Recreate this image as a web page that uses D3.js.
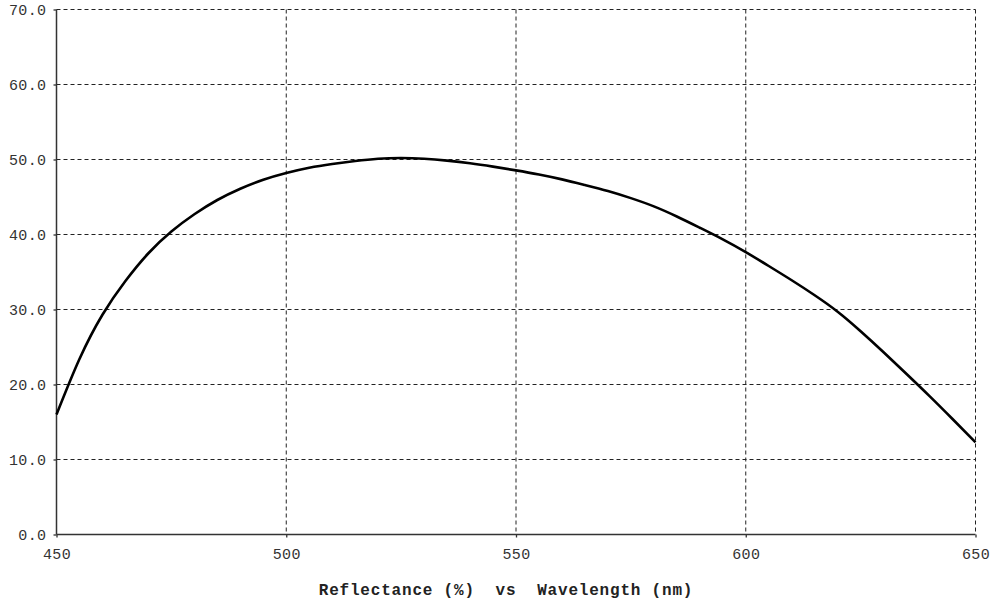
<!DOCTYPE html>
<html>
<head>
<meta charset="utf-8">
<script src="https://cdn.jsdelivr.net/npm/d3@7"></script>
<style>
html,body{margin:0;padding:0;background:#fff;}
svg{display:block;}
</style>
</head>
<body>
<svg id="chart" width="1006" height="607"></svg>
<script>
const wavelengths = [450,455,460,465,470,475,480,485,490,495,500,505,510,515,520,525,530,535,540,545,550,555,560,565,570,575,580,585,590,595,600,605,610,615,620,625,630,635,640,645,650];
const reflectance = [16.0,23.4,29.3,33.8,37.5,40.4,42.7,44.6,46.1,47.3,48.2,48.9,49.4,49.8,50.1,50.2,50.1,49.85,49.5,49.05,48.55,48.0,47.35,46.6,45.8,44.85,43.75,42.4,40.9,39.35,37.65,35.8,33.9,31.9,29.7,27.1,24.3,21.4,18.45,15.4,12.3];
const xTicks = [450,500,550,600,650];
const yTicks = [0,10,20,30,40,50,60,70];
const title = "Reflectance (%)  vs  Wavelength (nm)";

const svg = d3.select("#chart");
const x = d3.scaleLinear().domain([450,650]).range([56.5,975.5]);
const y = d3.scaleLinear().domain([0,70]).range([534.5,9.5]);
const font = "'Liberation Mono','Courier New',monospace";

// grid
const g = svg.append("g");
g.selectAll("line.h").data(yTicks.filter(d=>d>0)).enter().append("line")
  .attr("x1", x(450)).attr("x2", x(650))
  .attr("y1", d=>y(d)).attr("y2", d=>y(d))
  .attr("stroke","#222").attr("stroke-width",1).attr("stroke-dasharray","4,3");
g.selectAll("line.v").data(xTicks.filter(d=>d>450)).enter().append("line")
  .attr("x1", d=>x(d)).attr("x2", d=>x(d))
  .attr("y1", y(70)).attr("y2", y(0))
  .attr("stroke","#222").attr("stroke-width",1).attr("stroke-dasharray","4,3");

// axes
const yAxis = d3.axisLeft(y).tickValues(yTicks).tickSize(3).tickPadding(7).tickFormat(d3.format(".1f"));
const xAxis = d3.axisBottom(x).tickValues(xTicks).tickSize(3).tickPadding(11).tickFormat(d3.format("d"));
const ya = svg.append("g").attr("transform","translate("+x(450)+",0)").call(yAxis);
const xa = svg.append("g").attr("transform","translate(0,"+y(0)+")").call(xAxis);
[ya,xa].forEach(a=>{
  a.select(".domain").attr("stroke","#333").attr("stroke-width",1.5);
  a.selectAll(".tick line").attr("stroke","#333").attr("stroke-width",1.3);
  a.selectAll(".tick text").attr("fill","#333").style("font-family",font).style("font-size","15px").style("letter-spacing","0.4px");
});
ya.select(".domain").attr("d","M0,"+y(70)+"V"+y(0));
xa.select(".domain").attr("d","M"+x(450)+",0H"+x(650));

// curve
const line = d3.line().x((d,i)=>x(wavelengths[i])).y(d=>y(d)).curve(d3.curveNatural);
svg.append("path").datum(reflectance).attr("d",line)
  .attr("fill","none").attr("stroke","#000").attr("stroke-width",2.6);

// title
svg.append("text").attr("x",506).attr("y",595).attr("text-anchor","middle")
  .attr("fill","#222").style("font-family",font).style("font-size","16px")
  .style("font-weight","bold").style("letter-spacing","0.8px").style("white-space","pre")
  .text(title);
</script>
</body>
</html>
